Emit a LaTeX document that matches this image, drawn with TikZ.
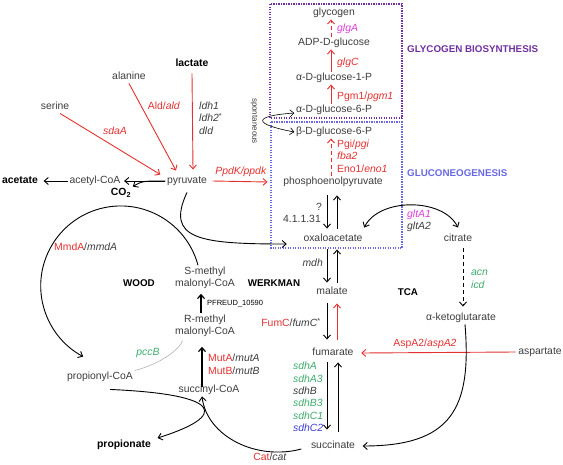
\documentclass[tikz,border=0pt]{standalone}
\usepackage{fontspec}
\setmainfont{Liberation Sans}
\usetikzlibrary{arrows.meta}
\definecolor{txt}{RGB}{60,60,60}
\definecolor{enzred}{RGB}{228,48,48}
\definecolor{enzmag}{RGB}{222,60,222}
\definecolor{enzgreen}{RGB}{60,172,108}
\definecolor{enzblue}{RGB}{60,60,215}
\definecolor{glycpurple}{RGB}{112,48,160}
\definecolor{glucoblue}{RGB}{104,104,228}
\newcommand{\fs}{\fontsize{10.4}{12.4}\selectfont}

\begin{document}
\begin{tikzpicture}[x=1pt, y=-1pt, >={Straight Barb[length=4pt,width=7pt]},
  met/.style = {text=txt, font=\fs, inner sep=1.5pt,
    text height=7.5pt, text depth=2pt},
  metb/.style = {met, text=black, font=\fs\bfseries},
  mett/.style = {text=txt, font=\fs, inner sep=1.5pt, align=center},
  enz/.style = {font=\fs, inner sep=0pt, text height=7.5pt, text depth=2pt},
  region/.style = {font=\fontsize{9.8}{12}\selectfont\bfseries, inner sep=0pt,
    text height=7.5pt, text depth=2pt},
  blk/.style = {draw=black, line width=0.9pt, ->},
  rd/.style = {blk, draw=enzred},
  dsh/.style = {dash pattern=on 4pt off 3pt},
  dotbox/.style = {line width=1.2pt, dash pattern=on 1.2pt off 1.3pt}]
  \useasboundingbox (0,0) rectangle (563,464);

  \draw[dotbox, glycpurple] (270,4) rectangle (402,118);
  \draw[dotbox, glucoblue] (271,122) rectangle (402,248);

  \node[metb] (lac) at (192,64) {lactate};
  \node[met] (ala) at (129,77) {alanine};
  \node[met] (ser) at (55,107) {serine};
  \node[met] (pyr) at (187,181) {pyruvate};
  \node[met] (acoa) at (95,181) {acetyl-CoA};
  \node[metb] (ace) at (20,181) {acetate};
  \node[metb] (co2) at (121,193) {CO\textsubscript{2}};
  \node[met] (glyc) at (334,13) {glycogen};
  \node[met] (adpg) at (334,43) {ADP-D-glucose};
  \node[met] (ag1) at (334,78) {α-D-glucose-1-P};
  \node[met] (ag6) at (334,110) {α-D-glucose-6-P};
  \node[met] (bg6) at (334,132) {β-D-glucose-6-P};
  \node[met] (pep) at (333,182) {phosphoenolpyruvate};
  \node[met] (oaa) at (333,239) {oxaloacetate};
  \node[met] (cit) at (458,239) {citrate};
  \node[met] (mal) at (332,292) {malate};
  \node[met] (akg) at (461,318) {α-ketoglutarate};
  \node[met] (fum) at (333,353) {fumarate};
  \node[met] (asp) at (540,352) {aspartate};
  \node[met] (suc) at (333,446) {succinate};
  \node[mett] (smm) at (205,278) {S-methyl\\malonyl-CoA};
  \node[mett] (rmm) at (205,326) {R-methyl\\malonyl-CoA};
  \node[met] (scoa) at (209,390) {succinyl-CoA};
  \node[met] (prop) at (100,377) {propionyl-CoA};
  \node[metb] (ppa) at (124,445) {propionate};

  \node[region, text=glycpurple, anchor=west] (glybio) at (407,50) {GLYCOGEN BIOSYNTHESIS};
  \node[region, text=glucoblue, anchor=west] (gluco) at (407,174) {GLUCONEOGENESIS};
  \node[region] (wood) at (139,284) {WOOD};
  \node[region] (werk) at (274,284) {WERKMAN};
  \node[region] (tca) at (408,293) {TCA};

  \node[enz, text=enzred] (sdaa) at (115,132) {\textit{sdaA}};
  \node[enz, text=enzred] (ald) at (164,107) {Ald/\textit{ald}};
  \node[enz, text=txt, anchor=west] (ldh1) at (199,107) {\textit{ldh1}};
  \node[enz, text=txt, anchor=west] (ldh2) at (199,119) {\textit{ldh2}\textsuperscript{*}};
  \node[enz, text=txt, anchor=west] (dld) at (199,132) {\textit{dld}};
  \node[enz, text=enzred] (ppdk) at (241,172) {\textit{PpdK/ppdk}};
  \node[enz, text=enzmag, anchor=west] (glga) at (337,29) {\textit{glgA}};
  \node[enz, text=enzred, anchor=west] (glgc) at (337,63) {\textit{glgC}};
  \node[enz, text=enzred, anchor=west] (pgm) at (337,97) {Pgm1/\textit{pgm1}};
  \node[enz, text=enzred, anchor=west] (pgi) at (337,145) {Pgi/\textit{pgi}};
  \node[enz, text=enzred, anchor=west] (fba) at (337,157) {\textit{fba2}};
  \node[enz, text=enzred, anchor=west] (eno) at (337,170) {Eno1/\textit{eno1}};
  \node[enz, text=txt, anchor=east] (unk) at (322,208) {?};
  \node[enz, text=txt, anchor=east] (ec) at (321,220) {4.1.1.31};
  \node[enz, text=enzmag, anchor=west] (glta1) at (407,215) {\textit{gltA1}};
  \node[enz, text=txt, anchor=west] (glta2) at (407,227) {\textit{gltA2}};
  \node[enz, text=txt, anchor=east] (mdh) at (323,264) {\textit{mdh}};
  \node[enz, text=enzgreen, anchor=west] (acn) at (471,273) {\textit{acn}};
  \node[enz, text=enzgreen, anchor=west] (icd) at (471,286) {\textit{icd}};
  \node[enz, text=enzred, anchor=east] (fumc) at (321,324) {FumC\textcolor{txt}{/\textit{fumC}\textsuperscript{*}}};
  \node[enz, text=enzred] (aspa) at (425,344) {AspA2/\textit{aspA2}};
  \foreach \g/\c [count=\i] in {sdhA/enzgreen, sdhA3/enzgreen, sdhB/txt, sdhB3/enzgreen, sdhC1/enzgreen, sdhC2/enzblue}
    \node[enz, text=\c, anchor=west] (sdh\i) at (293,354.6+12.4*\i) {\textit{\g}};
  \node[enz, text=enzred, anchor=west] (mmda) at (54,248) {MmdA\textcolor{txt}{/\textit{mmdA}}};
  \node[enz, font=\fontsize{7.5}{9}\selectfont, text=black, anchor=west] (pfr) at (207,303) {PFREUD\_10590};
  \node[enz, text=enzred, anchor=west] (muta) at (208,359) {MutA\textcolor{txt}{/\textit{mutA}}};
  \node[enz, text=enzred, anchor=west] (mutb) at (208,372) {MutB\textcolor{txt}{/\textit{mutB}}};
  \node[enz, text=enzgreen] (pccb) at (148,353) {\textit{pccB}};
  \node[enz, text=enzred] (cat) at (270,458) {Cat\textcolor{txt}{/\textit{cat}}};
  \node[enz, font=\fontsize{8}{9}\selectfont, text=txt, rotate=-90] (spont) at (255,121) {spontaneous};

  \draw[rd] ([xshift=-3pt]ag6.north) -- ([xshift=-3pt]ag1.south);
  \draw[rd] ([xshift=-3pt]ag1.north) -- ([xshift=-3pt]adpg.south);
  \draw[rd, dsh] ([xshift=-3pt]adpg.north) -- ([xshift=-3pt]glyc.south);
  \draw[rd, dsh] ([xshift=-2pt]pep.north) -- ([xshift=-3pt]bg6.south);
  \draw[blk, line width=0.6pt, <->] ([yshift=-3pt]ag6.west) .. controls +(-42,3) and +(-42,-8) .. (bg6.west);

  \draw[rd] ([xshift=5pt]ser.south) -- ([xshift=-5pt]pyr.north west);
  \draw[rd] (ala.south) -- ([xshift=-11pt,yshift=4pt]pyr.north);
  \draw[rd] ([yshift=-3pt]lac.south) -- ([xshift=6pt,yshift=5pt]pyr.north);
  \draw[blk] (pyr.west) -- ([xshift=2pt]acoa.east);
  \draw[blk] (acoa.west) -- ([xshift=4pt]ace.east);
  \draw[blk] (pyr.west) .. controls +(-20,0) and +(10,-6) .. (co2.north east);
  \draw[rd] ([xshift=4pt]pyr.east) -- ([xshift=-14pt]pep.west);
  \draw[blk] ([yshift=-5pt]pyr.south) .. controls +(-22,47) and +(-87,0) .. ([xshift=-15pt,yshift=-5pt]oaa.west);

  \draw[blk] ([xshift=-6pt,yshift=-7pt]pep.south) -- ([xshift=-6pt,yshift=4pt]oaa.north);
  \draw[blk] ([xshift=4pt,yshift=4pt]oaa.north) -- ([xshift=4pt,yshift=-7pt]pep.south);
  \draw[blk] ([xshift=-6pt,yshift=-4pt]oaa.south) -- ([xshift=-5pt,yshift=3pt]mal.north);
  \draw[blk] ([xshift=5pt,yshift=3pt]mal.north) -- ([xshift=4pt,yshift=-4pt]oaa.south);
  \draw[blk] ([xshift=-5pt,yshift=-5pt]mal.south) -- ([xshift=-6pt,yshift=7pt]fum.north);
  \draw[rd] ([xshift=4pt,yshift=7pt]fum.north) -- ([xshift=5pt,yshift=-5pt]mal.south);
  \draw[blk] ([xshift=-6pt,yshift=-3pt]fum.south) -- ([xshift=-6pt,yshift=10pt]suc.north);
  \draw[blk] ([xshift=5pt,yshift=8pt]suc.north) -- ([xshift=5pt,yshift=-3pt]fum.south);
  \draw[rd] ([xshift=-1pt]asp.west) -- ([xshift=6pt]fum.east);
  \draw[blk, dsh] ([xshift=5pt,yshift=-3pt]cit.south) -- ([xshift=2pt,yshift=5pt]akg.north);
  \draw[blk, <->] ([yshift=5pt]oaa.north east) .. controls +(15,-30) and +(-15,-30) .. ([yshift=5pt]cit.north);
  \draw[blk] ([xshift=4pt]akg.south) .. controls +(7,85) and +(88,0) .. ([xshift=6pt]suc.east);

  \draw[blk] ([xshift=-7pt]smm.north) arc[start angle=-15, end angle=-242, radius=80];
  \draw[blk, line width=1.2pt] ([xshift=-4pt]rmm.north) -- ([xshift=-4pt,yshift=-3pt]smm.south);
  \draw[blk, line width=1.2pt] ([xshift=-7pt,yshift=-3pt]scoa.north) -- ([xshift=-3pt,yshift=-8pt]rmm.south);
  \draw[gray!70, line width=0.5pt] (prop.north east) .. controls +(20,-5) and +(-5,12) .. ([xshift=9pt,yshift=-2pt]rmm.south west);
  \draw[blk] ([xshift=10pt,yshift=-6pt]prop.south) .. controls +(115,5) and +(70,-22) .. ([xshift=5pt,yshift=7pt]ppa.east);
  \draw[blk] ([xshift=-8pt,yshift=-3pt]suc.west) .. controls +(-45,12) and +(5,40) .. ([xshift=-7pt]scoa.south);
\end{tikzpicture}
\end{document}
